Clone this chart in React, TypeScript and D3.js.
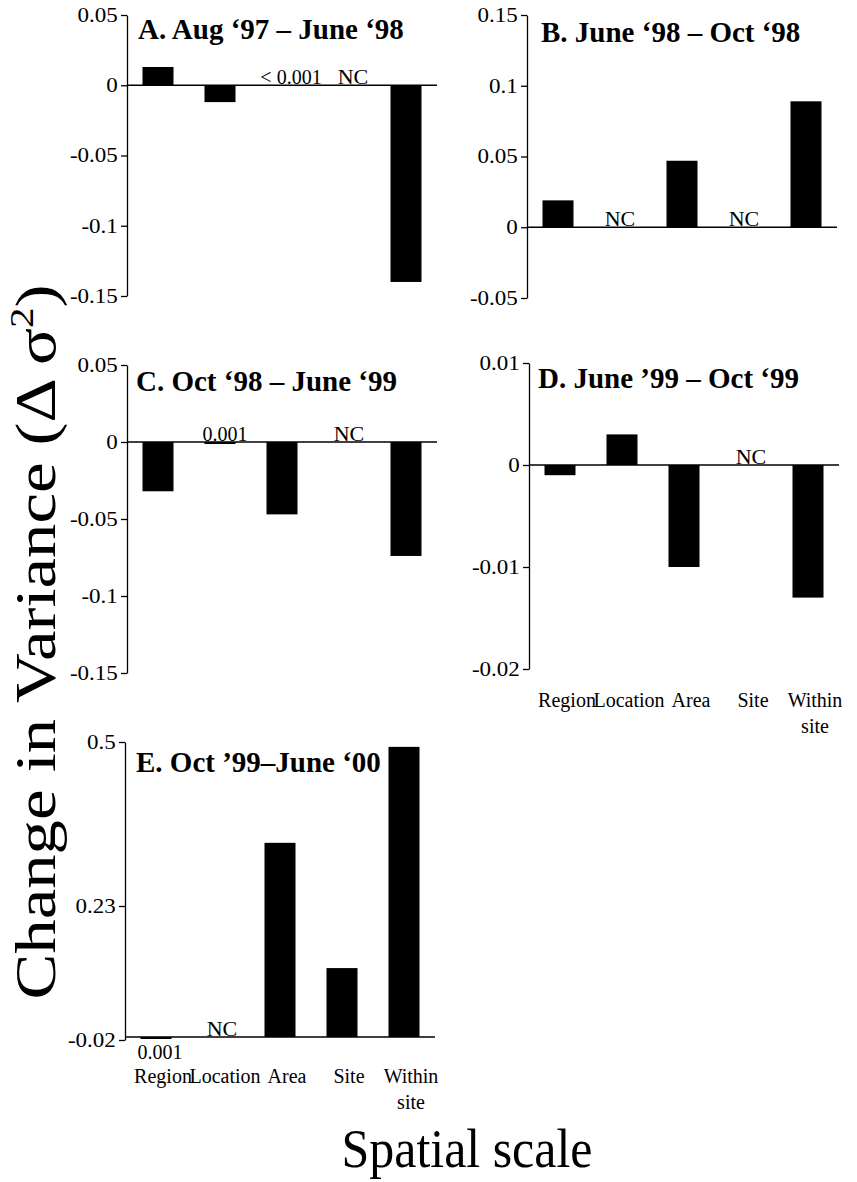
import React, { useRef, useEffect } from 'react';
import { select, scaleBand, scaleLinear, axisLeft } from 'd3';

// spatial scales on the x axis
const categories = ['Region', 'Location', 'Area', 'Site', 'Within site'];

// change in variance per period (null = NC, no component)
const valuesA = [0.013, -0.012, 0, null, -0.14];
const notesA = ['', '', '< 0.001', 'NC', ''];
const ticksA = [-0.15, -0.1, -0.05, 0, 0.05];

const valuesB = [0.019, null, 0.047, null, 0.089];
const notesB = ['', 'NC', '', 'NC', ''];
const ticksB = [-0.05, 0, 0.05, 0.1, 0.15];

const valuesC = [-0.032, 0.001, -0.047, null, -0.074];
const notesC = ['', '0.001', '', 'NC', ''];
const ticksC = [-0.15, -0.1, -0.05, 0, 0.05];

const valuesD = [-0.001, 0.003, -0.01, null, -0.013];
const notesD = ['', '', '', 'NC', ''];
const ticksD = [-0.02, -0.01, 0, 0.01];

const valuesE = [0.001, null, 0.334, 0.121, 0.492];
const notesE = ['0.001', 'NC', '', '', ''];
const ticksE = [-0.02, 0.23, 0.5];

const FONT = "'Liberation Serif', 'Times New Roman', serif";

function App() {
  const svgRef = useRef(null);

  useEffect(() => {
    const svg = select(svgRef.current);
    svg.selectAll('*').remove();

    const panels = [
      { title: 'A. Aug \u201897 \u2013 June \u201898', values: valuesA, notes: notesA, ticks: ticksA,
        domain: [-0.15, 0.05], range: [296, 15], x0: 127, tx: 138, ty: 39, noteDx: 9, showCats: false },
      { title: 'B. June \u201898 \u2013 Oct \u201898', values: valuesB, notes: notesB, ticks: ticksB,
        domain: [-0.05, 0.15], range: [298, 15], x0: 527, tx: 541, ty: 42, noteDx: 0, showCats: false },
      { title: 'C. Oct \u201898 \u2013 June \u201899', values: valuesC, notes: notesC, ticks: ticksC,
        domain: [-0.15, 0.05], range: [673, 365], x0: 127, tx: 136, ty: 391, noteDx: 5, showCats: false },
      { title: 'D. June \u201999 \u2013 Oct \u201899', values: valuesD, notes: notesD, ticks: ticksD,
        domain: [-0.02, 0.01], range: [669, 363], x0: 529, tx: 538, ty: 388, noteDx: 5, showCats: true, catY: 707 },
      // panel E has an uneven value axis, bars sit on the bottom line
      { title: 'E. Oct \u201999\u2013June \u201800', values: valuesE, notes: notesE, ticks: ticksE,
        domain: [-0.02, 0, 0.23, 0.5], range: [1040, 1037, 906, 742], x0: 125, tx: 136, ty: 772, noteDx: 4, showCats: true, catY: 1083, noteBelow: true },
    ];

    panels.forEach((p) => {
      const g = svg.append('g');
      const x = scaleBand()
        .domain(categories)
        .range([p.x0, p.x0 + 310])
        .paddingInner(0.5)
        .paddingOuter(0.25);
      const y = scaleLinear().domain(p.domain).range(p.range);
      const y0 = y(0);

      // y axis
      const axis = axisLeft(y)
        .tickValues(p.ticks)
        .tickSize(6)
        .tickSizeOuter(0)
        .tickPadding(2)
        .tickFormat((d) => String(d));
      const ag = g.append('g').attr('transform', `translate(${p.x0},0)`).call(axis);
      ag.selectAll('path, line').attr('stroke', '#000').attr('stroke-width', 1.3);
      ag.selectAll('text')
        .attr('fill', '#000')
        .attr('transform', 'scale(1.15,1)')
        .style('font-family', FONT)
        .style('font-size', '20px');

      // zero line
      g.append('line')
        .attr('x1', p.x0)
        .attr('x2', p.x0 + 310)
        .attr('y1', y0)
        .attr('y2', y0)
        .attr('stroke', '#000')
        .attr('stroke-width', 1.5);

      // bars
      const data = categories.map((c, i) => ({ c, v: p.values[i], note: p.notes[i] }));
      g.selectAll('.bar')
        .data(data.filter((d) => d.v !== null && d.v !== 0))
        .join('rect')
        .attr('class', 'bar')
        .attr('x', (d) => x(d.c))
        .attr('width', x.bandwidth())
        .attr('y', (d) => {
          const h = Math.abs(y(d.v) - y0);
          return h < 2 ? y0 : Math.min(y(d.v), y0);
        })
        .attr('height', (d) => Math.max(Math.abs(y(d.v) - y0), 2))
        .attr('fill', '#000');

      // NC / small value notes
      g.selectAll('.note')
        .data(data.filter((d) => d.note))
        .join('text')
        .attr('class', 'note')
        .attr('x', (d) => x(d.c) + x.bandwidth() / 2 + p.noteDx)
        .attr('y', (d) => (p.noteBelow && d.v !== null ? y0 + 22 : y0 - 1))
        .attr('text-anchor', 'middle')
        .style('font-family', FONT)
        .style('font-size', (d) => (d.note === 'NC' ? '22px' : '20px'))
        .text((d) => d.note);

      // title
      g.append('text')
        .attr('x', p.tx)
        .attr('y', p.ty)
        .style('font-family', FONT)
        .style('font-size', '29px')
        .style('font-weight', 'bold')
        .text(p.title);

      // category labels
      if (p.showCats) {
        const cats = g.selectAll('.cat')
          .data(categories)
          .join('text')
          .attr('class', 'cat')
          .attr('text-anchor', 'middle')
          .style('font-family', FONT)
          .style('font-size', '20px');
        cats.each(function (c) {
          const t = select(this);
          const cx = x(c) + x.bandwidth() / 2 + 7;
          c.split(' ').forEach((w, k) => {
            t.append('tspan').attr('x', cx).attr('y', p.catY + k * 26).text(w);
          });
        });
      }
    });

    // axis titles
    const yl = svg.append('text')
      .attr('transform', 'translate(55,642) rotate(-90)')
      .attr('text-anchor', 'middle')
      .attr('textLength', 715)
      .attr('lengthAdjust', 'spacingAndGlyphs')
      .style('font-family', FONT)
      .style('font-size', '57px');
    yl.append('tspan').text('Change in Variance (\u0394 \u03c3');
    yl.append('tspan').attr('dy', -22).style('font-size', '34px').text('2');
    yl.append('tspan').attr('dy', 22).text(')');

    svg.append('text')
      .attr('x', 467)
      .attr('y', 1167)
      .attr('text-anchor', 'middle')
      .attr('textLength', 251)
      .attr('lengthAdjust', 'spacingAndGlyphs')
      .style('font-family', FONT)
      .style('font-size', '54px')
      .text('Spatial scale');
  }, []);

  return (
    <svg
      ref={svgRef}
      width={857}
      height={1182}
      style={{ position: 'absolute', left: 0, top: 0, background: '#fff' }}
    />
  );
}

export default App;
